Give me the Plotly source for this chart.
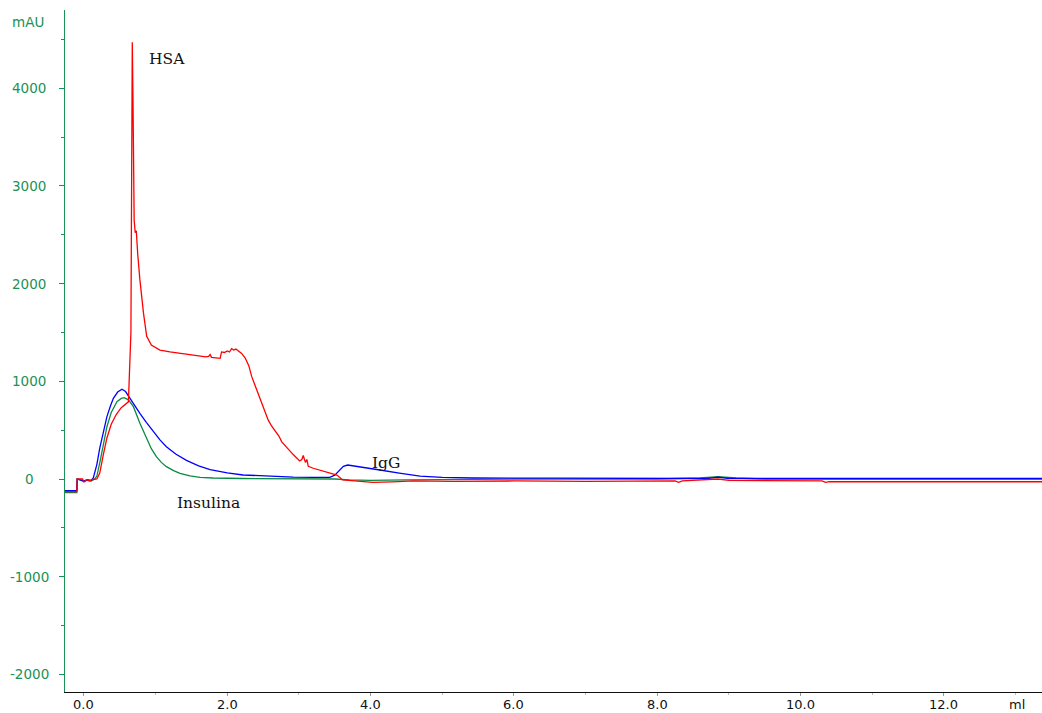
import plotly.graph_objects as go

# ---- data ----
hsa_x = [-0.27, -0.10, -0.095, -0.02, 0.0, 0.03, 0.08, 0.12, 0.18, 0.22, 0.27, 0.32, 0.38, 0.45,
         0.52, 0.58, 0.62, 0.655, 0.665, 0.674, 0.685, 0.70, 0.715, 0.73, 0.75, 0.78, 0.83, 0.875,
         0.94, 1.06, 1.2, 1.38, 1.55, 1.70, 1.74, 1.76, 1.78, 1.90, 1.92, 1.96, 2.0, 2.03, 2.06,
         2.09, 2.12, 2.16, 2.2, 2.25, 2.30, 2.34, 2.40, 2.46, 2.52, 2.57, 2.62, 2.67, 2.72, 2.76,
         2.84, 2.92, 3.01, 3.04, 3.06, 3.09, 3.11, 3.13, 3.2, 3.3, 3.39, 3.53, 3.61, 3.75, 4.03,
         4.3, 4.6, 5.15, 6.0, 7.0, 8.0, 8.25, 8.3, 8.35, 8.85, 9.0, 10.3, 10.35, 10.4, 13.37]
hsa_y = [-130, -130, 0, 0, -30, -10, -20, -5, 0, 60, 250, 420, 560, 660,
         730, 770, 790, 1500, 3500, 4470, 3800, 2650, 2520, 2540, 2300, 2040, 1700, 1460,
         1370, 1320, 1300, 1280, 1265, 1250, 1255, 1275, 1245, 1235, 1300, 1295, 1310, 1300, 1335,
         1320, 1330, 1310, 1285, 1238, 1160, 1050, 930, 810, 700, 605, 540, 485, 440, 380,
         310, 250, 185, 200, 240, 170, 200, 130, 110, 90, 75, 40, -10, -20, -35,
         -30, -20, -25, -20, -25, -22, -20, -35, -20, 0, -15, -20, -35, -28, -28]

igg_x = [-0.27, -0.10, -0.095, 0.0, 0.05, 0.10, 0.13, 0.18, 0.22, 0.27, 0.32, 0.37, 0.41, 0.47,
         0.53, 0.58, 0.64, 0.70, 0.78, 0.87, 0.97, 1.06, 1.15, 1.28, 1.43, 1.6, 1.76, 2.0, 2.22,
         2.5, 2.92, 3.2, 3.43, 3.50, 3.56, 3.62, 3.68, 3.76, 3.9, 4.13, 4.4, 4.69, 5.0, 5.43,
         6.5, 8.0, 8.7, 8.85, 9.0, 13.37]
igg_y = [-120, -120, 0, -20, -10, -15, 10, 150, 317, 490, 638, 750, 826, 890,
         918, 895, 826, 750, 672, 580, 484, 400, 331, 255, 190, 135, 95, 62, 41,
         30, 20, 17, 17, 40, 85, 130, 143, 135, 120, 92, 60, 30, 17, 10,
         8, 5, 5, 20, 5, 5]

ins_x = [-0.27, -0.10, -0.095, 0.0, 0.05, 0.10, 0.15, 0.18, 0.23, 0.27, 0.32, 0.38, 0.46, 0.52,
         0.56, 0.62, 0.69, 0.78, 0.875, 0.94, 1.01, 1.08, 1.15, 1.25, 1.34, 1.48, 1.62, 1.8,
         2.2, 3.0, 3.5, 3.7, 4.0, 4.5, 5.0, 6.0, 8.0, 8.6, 8.85, 9.1, 9.5, 13.37]
ins_y = [-140, -140, 0, -25, -10, -20, 0, 30, 200, 360, 535, 680, 791, 825,
         832, 810, 740, 570, 417, 310, 228, 170, 126, 85, 58, 32, 17, 10,
         5, 0, 0, -10, -15, -10, -5, 0, 0, 10, 25, 10, 0, 0]

x_ticks = [0, 2, 4, 6, 8, 10, 12]
x_tick_text = ["0.0", "2.0", "4.0", "6.0", "8.0", "10.0", "12.0"]
y_ticks = [-2000, -1000, 0, 1000, 2000, 3000, 4000]
y_tick_text = ["-2000", "-1000", "0", "1000", "2000", "3000", "4000"]

labels = ["HSA", "IgG", "Insulina"]
label_x = [1.165, 4.21, 1.737]
label_y = [4294, 165, -250]

GREEN = "#1a9156"
fig = go.Figure()
fig.add_trace(go.Scatter(x=ins_x, y=ins_y, mode="lines", line=dict(color="#0b8a45", width=1.3),
                         showlegend=False, hoverinfo="skip"))
fig.add_trace(go.Scatter(x=igg_x, y=igg_y, mode="lines", line=dict(color="#0000ff", width=1.3),
                         showlegend=False, hoverinfo="skip"))
fig.add_trace(go.Scatter(x=hsa_x, y=hsa_y, mode="lines", line=dict(color="#ff0000", width=1.3),
                         showlegend=False, hoverinfo="skip"))

anns = []
for t, xx, yy in zip(labels, label_x, label_y):
    anns.append(dict(text=t, x=xx, y=yy, xref="x", yref="y", showarrow=False,
                     xanchor="center", yanchor="middle",
                     font=dict(family="DejaVu Serif", size=15.5, color="#111111")))
for v, t in zip(y_ticks, y_tick_text):
    anns.append(dict(text=t, x=-0.0368, y=v, xref="paper", yref="y", showarrow=False,
                     xanchor="center", yanchor="middle",
                     font=dict(family="DejaVu Sans", size=13.5, color=GREEN)))
for v, t in zip(x_ticks, x_tick_text):
    anns.append(dict(text=t, x=v, y=-0.0176, xref="x", yref="paper", showarrow=False,
                     xanchor="center", yanchor="middle", borderpad=0,
                     font=dict(family="DejaVu Sans", size=13, color="#111111")))
anns.append(dict(text="mAU", x=-0.0378, y=4681, xref="paper", yref="y", showarrow=False,
                 xanchor="center", yanchor="middle",
                 font=dict(family="DejaVu Sans", size=13.5, color=GREEN)))
anns.append(dict(text="ml", x=13.02, y=-0.0176, xref="x", yref="paper", showarrow=False,
                 xanchor="center", yanchor="middle", borderpad=0,
                 font=dict(family="DejaVu Sans", size=13, color="#111111")))

fig.update_layout(
    width=1042, height=713,
    margin=dict(l=65, r=0, t=10, b=21),
    paper_bgcolor="white", plot_bgcolor="white",
    annotations=anns,
    xaxis=dict(range=[-0.265, 13.37], showgrid=False, zeroline=False, automargin=False,
               showline=True, linecolor="#111111", linewidth=1.3,
               tickmode="array", tickvals=x_ticks, showticklabels=False,
               ticks="outside", ticklen=3, tickcolor="#999999",
               minor=dict(ticks="outside", ticklen=2, dtick=1, tickcolor="#bbbbbb")),
    yaxis=dict(range=[-2180, 4800], showgrid=False, zeroline=False, automargin=False,
               showline=True, linecolor=GREEN, linewidth=1.3,
               tickmode="array", tickvals=y_ticks, showticklabels=False,
               ticks="outside", ticklen=5, tickcolor=GREEN,
               minor=dict(ticks="outside", ticklen=3, dtick=500, tickcolor=GREEN)),
)

fig.write_html("out.html")
